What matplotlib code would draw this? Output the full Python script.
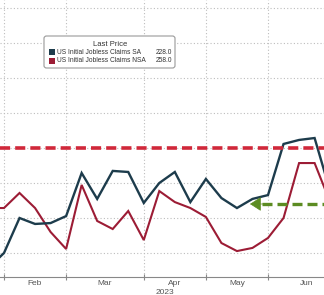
import matplotlib
matplotlib.use("Agg")
import matplotlib.pyplot as plt
import matplotlib.patches as mpatches
import numpy as np
import pandas as pd

# ---- data ----
dates = pd.date_range("2023-01-20", periods=23, freq="W-FRI")
sa_values = [191.4, 200.0, 220.0, 216.6, 217.1, 221.1, 245.7, 230.9, 246.9, 246.3,
             228.6, 240.0, 246.3, 229.1, 242.3, 231.4, 225.7, 230.9, 233.1, 262.3,
             264.6, 265.7, 235.4]
nsa_values = [225.7, 225.7, 234.3, 225.7, 212.0, 202.3, 238.9, 218.3, 213.7, 224.0,
              207.4, 235.4, 229.1, 225.7, 220.6, 205.7, 201.1, 202.9, 208.6, 220.0,
              251.4, 251.4, 229.1]
sa_label = "US Initial Jobless Claims SA"
nsa_label = "US Initial Jobless Claims NSA"
sa_last = 228.0
nsa_last = 258.0
threshold_level = 260.0
current_level = 228.0
y_grid = [200, 220, 240, 260, 280, 300, 320, 340]
year_label = "2023"

c_sa = "#1d3c4c"
c_nsa = "#9c1c35"
c_red = "#d0283a"
c_green = "#5c8c22"
c_grid = "#bdbdbd"
c_text = "#555555"
FONT = ["Liberation Sans", "DejaVu Sans"]

W, H = 324, 295
fig = plt.figure(figsize=(W / 100, H / 100), dpi=100)
ax = fig.add_axes([0, (H - 277) / H, 1, 277 / H])

# index-based x axis (Bloomberg style): position of each weekly point
x = np.arange(len(dates)) - 1  # first point sits one week before the Jan/Feb boundary

# month boundaries = last Friday of each month (extended calendar)
ext = pd.date_range(dates[0], periods=len(dates) + 8, freq="W-FRI")
ext_x = np.arange(len(ext)) - 1
bounds = [ext_x[k] for k in range(len(ext) - 1) if ext[k].month != ext[k + 1].month]
bound_months = [ext[k + 1] for k in range(len(ext) - 1) if ext[k].month != ext[k + 1].month]

px_per_week = 15.53
x0 = -4 / px_per_week
x1 = x0 + W / px_per_week

# grid
for g in y_grid:
    ax.axhline(g, color=c_grid, lw=0.8, ls=(0, (1, 2)), zorder=1)
for b in bounds:
    ax.axvline(b, color=c_grid, lw=0.8, ls=(0, (1, 2)), zorder=1)

ax.plot(x, nsa_values, color=c_nsa, lw=1.5, zorder=3, solid_joinstyle="miter")
ax.plot(x, sa_values, color=c_sa, lw=1.7, zorder=4, solid_joinstyle="miter")

# threshold dashed line
ax.axhline(threshold_level, color=c_red, lw=2.6, ls=(0, (2.8, 1.4)), zorder=5)

# green arrow at current level
tip = x0 + 250 / px_per_week
base = tip + 12 / px_per_week
ax.plot([base, x1 + 1], [current_level, current_level],
        color=c_green, lw=2.4, ls=(0, (3.0, 1.5)), zorder=6)
ax.annotate("", xy=(tip, current_level), xytext=(base + 0.05, current_level),
            arrowprops=dict(arrowstyle="-|>,head_length=0.7,head_width=0.45",
                            color=c_green, lw=0.5, mutation_scale=10,
                            shrinkA=0, shrinkB=0), zorder=7)

ax.set_xlim(x0, x1)
ax.set_ylim(220 - (277 - 218) * 20 / 35, 220 + 218 * 20 / 35)

# axes styling
for s in ["top", "right", "left"]:
    ax.spines[s].set_visible(False)
ax.spines["bottom"].set_color("#888888")
ax.spines["bottom"].set_linewidth(0.8)
ax.set_yticks([])
ax.set_xticks([b for b in bounds if x0 <= b <= x1])
ax.set_xticklabels([])
ax.tick_params(axis="x", direction="inout", length=4, color="#888888", width=0.8)
# month labels centered between boundaries
for k in range(len(bounds) - 1):
    mid = (bounds[k] + bounds[k + 1]) / 2
    if x0 <= mid <= x1:
        ax.text(mid, -0.012, bound_months[k].strftime("%b"), transform=ax.get_xaxis_transform(),
                ha="center", va="top", fontsize=6, color=c_text, family=FONT)
ax.text(0.51, -0.045, year_label, transform=ax.transAxes, ha="center", va="top",
        fontsize=6, color=c_text, family=FONT)

# manual legend
def fx(px):
    return px / W

def fy(py):
    return 1 - py / H

box = mpatches.FancyBboxPatch((fx(44), fy(68)), fx(175) - fx(44), fy(36) - fy(68),
                              boxstyle="round,pad=0,rounding_size=0.008",
                              transform=fig.transFigure, facecolor="white",
                              edgecolor="#999999", lw=0.8, zorder=10)
fig.add_artist(box)
fig.text(fx(110), fy(44), "Last Price", ha="center", va="center", fontsize=5.5,
         color="#333333", family=FONT, zorder=11)
rows = [(c_sa, sa_label, sa_last, 52), (c_nsa, nsa_label, nsa_last, 61)]
for col, lab, val, yy in rows:
    fig.add_artist(mpatches.Rectangle((fx(49), fy(yy + 3)), fx(6), fy(0) - fy(6),
                                      transform=fig.transFigure, facecolor=col,
                                      edgecolor="none", zorder=11))
    fig.text(fx(57), fy(yy), lab, ha="left", va="center", fontsize=4.8,
             color="#333333", family=FONT, zorder=11)
    fig.text(fx(172), fy(yy), f"{val:.1f}", ha="right", va="center", fontsize=4.8,
             color="#333333", family=FONT, zorder=11)

fig.savefig("out.png", dpi=100, facecolor="white")
